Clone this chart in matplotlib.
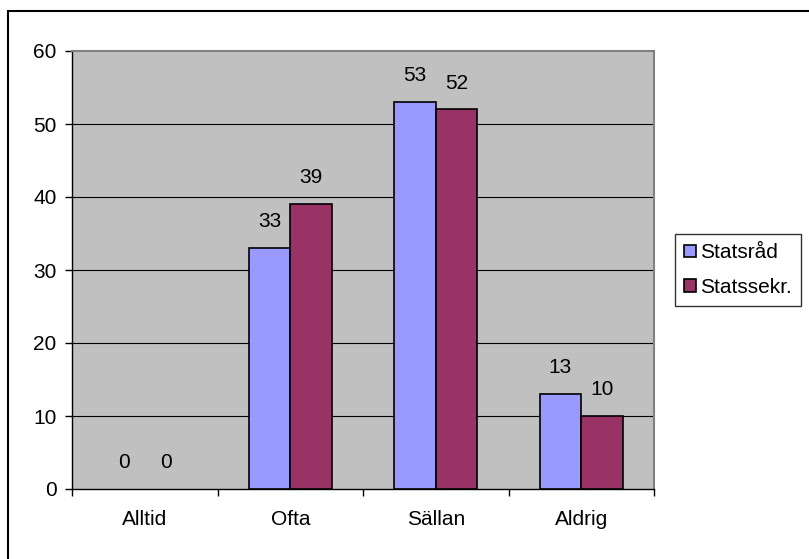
import numpy as np
import matplotlib.pyplot as plt
from matplotlib.patches import Rectangle

plt.rcParams['font.family'] = ['Liberation Sans', 'DejaVu Sans']

kategorier = ["Alltid", "Ofta", "Sällan", "Aldrig"]
statsrad = [0, 33, 53, 13]
statssekr = [0, 39, 52, 10]
serier = ["Statsråd", "Statssekr."]

W, H = 809, 559
fs = 15
fig = plt.figure(figsize=(W / 100, H / 100), dpi=100)
fig.patch.set_facecolor("white")

# ram runt hela diagrammet (höger/nederkant utanför bilden)
fig.patches.append(Rectangle((8 / W, -0.05), 1.1, (H - 11) / H + 0.05,
                             transform=fig.transFigure, fill=False,
                             edgecolor="black", linewidth=1.5))

ax = fig.add_axes([72 / W, (H - 489) / H, (654 - 72) / W, (489 - 51) / H])
ax.set_facecolor("#C0C0C0")

x = np.arange(len(kategorier))
bw = 1 / 3.5
lw1 = [1.2 if v > 0 else 0 for v in statsrad]
lw2 = [1.2 if v > 0 else 0 for v in statssekr]
b1 = ax.bar(x - bw / 2, statsrad, bw, color="#9999FF", edgecolor="black",
            linewidth=lw1, label=serier[0], zorder=3)
b2 = ax.bar(x + bw / 2, statssekr, bw, color="#993366", edgecolor="black",
            linewidth=lw2, label=serier[1], zorder=3)

for bars, vals in [(b1, statsrad), (b2, statssekr)]:
    for r, v in zip(bars, vals):
        ax.annotate(str(v), (r.get_x() + r.get_width() / 2, v),
                    xytext=(0, 19), textcoords="offset points",
                    ha="center", va="center", fontsize=fs)

ax.set_xlim(-0.5, 3.5)
ax.set_ylim(0, 60)
ax.set_yticks(range(0, 61, 10))
ax.set_xticks(np.arange(-0.5, 4, 1))
ax.set_xticklabels([])
ax.set_xticks(x, minor=True)
ax.set_xticklabels(kategorier, minor=True, fontsize=fs)
ax.tick_params(axis="x", which="minor", length=0, pad=15)
ax.tick_params(axis="x", which="major", length=5, direction="out", width=1)
ax.tick_params(axis="y", length=5, direction="out", width=1, labelsize=fs, pad=6)

for yv in range(10, 60, 10):
    ax.axhline(yv, color="black", linewidth=0.8, zorder=1)

ax.spines["top"].set_color("#808080")
ax.spines["top"].set_linewidth(1.5)
ax.spines["right"].set_color("#808080")
ax.spines["right"].set_linewidth(1.5)
ax.spines["left"].set_linewidth(1)
ax.spines["bottom"].set_linewidth(1)

# legenden ritas med fyllda rutor
h1 = Rectangle((0, 0), 1, 1, facecolor="#9999FF", edgecolor="black", linewidth=1.2)
h2 = Rectangle((0, 0), 1, 1, facecolor="#993366", edgecolor="black", linewidth=1.2)
leg = fig.legend(handles=[h1, h2], labels=serier, loc="center left",
                 bbox_to_anchor=(675 / W, (H - 270) / H),
                 frameon=True, fancybox=False, edgecolor="black",
                 fontsize=fs, handlelength=0.55, handleheight=0.55,
                 handletextpad=0.2, labelspacing=0.75, borderpad=0.45,
                 borderaxespad=0)
leg.get_frame().set_linewidth(1)

fig.savefig("out.png", dpi=100)
